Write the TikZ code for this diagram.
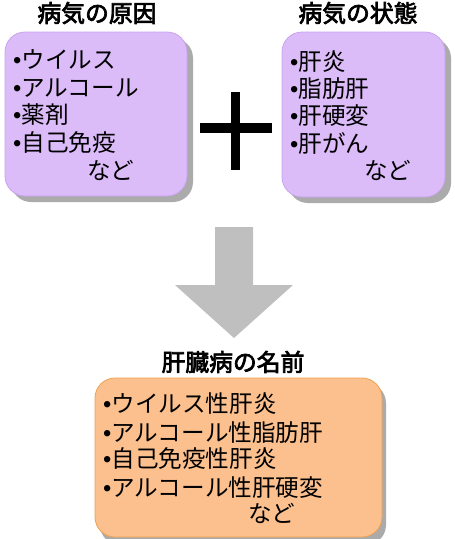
\documentclass[tikz,border=0pt]{standalone}
\usepackage{fontspec}
\setmainfont{Liberation Sans}
\newfontfamily\jpfont{Noto Sans CJK JP}
\newfontfamily\jptitle[FakeBold=3]{Noto Sans CJK JP}
\newfontfamily\latinfont{Liberation Sans}
\newcommand\bul{{\latinfont •}}
\definecolor{lav}{HTML}{DCBBF9}
\definecolor{lavline}{HTML}{C9A3EE}
\definecolor{peach}{HTML}{FBC08E}
\definecolor{peachline}{HTML}{EFA24E}
\definecolor{shadowgray}{HTML}{ABABAB}
\definecolor{arrowgray}{HTML}{BFBFBF}
\begin{document}
\begin{tikzpicture}[x=1pt,y=-1pt,
  boxshape/.style={rounded corners=20pt, line width=0.8pt},
  item/.style={anchor=base west, inner sep=0pt, font=\jpfont\fontsize{23.6}{28}\selectfont},
  title/.style={anchor=base, inner sep=0pt, font=\jptitle\fontsize{23.8}{28}\selectfont}]
\useasboundingbox (0,0) rectangle (455,539);
% shadows
\fill[shadowgray, rounded corners=20pt] (11,38) rectangle (193,202);
\fill[shadowgray, rounded corners=20pt] (288,38) rectangle (451,203);
\fill[shadowgray, rounded corners=20pt] (100,383) rectangle (386,545);
% boxes
\draw[boxshape, fill=lav, draw=lavline] (5,32) rectangle (187,196);
\draw[boxshape, fill=lav, draw=lavline] (282,32) rectangle (445,197);
\draw[boxshape, fill=peach, draw=peachline] (95,378) rectangle (382,537);
% titles
\node[title] (t1) at (97,22) {病気の原因};
\node[title] (t2) at (358,22) {病気の状態};
\node[title] (t3) at (233,371) {肝臓病の名前};
% left list
\node[item] (a1) at (13,68) {\bul ウイルス};
\node[item] (a2) at (13,96) {\bul アルコール};
\node[item] (a3) at (13,123) {\bul 薬剤};
\node[item] (a4) at (13,151) {\bul 自己免疫};
\node[item] (a5) at (87,179) {など};
% right list
\node[item] (b1) at (290,70) {\bul 肝炎};
\node[item] (b2) at (290,97) {\bul 脂肪肝};
\node[item] (b3) at (290,124) {\bul 肝硬変};
\node[item] (b4) at (290,152) {\bul 肝がん};
\node[item] (b5) at (364,179) {など};
% bottom list
\node[item] (c1) at (103,412) {\bul ウイルス性肝炎};
\node[item] (c2) at (103,441) {\bul アルコール性脂肪肝};
\node[item] (c3) at (103,467) {\bul 自己免疫性肝炎};
\node[item] (c4) at (103,496) {\bul アルコール性肝硬変};
\node[item] (c5) at (248,522) {など};
% plus sign
\fill[black] (231,92) rectangle (240,170);
\fill[black] (200,123) rectangle (272,133);
% down arrow
\fill[arrowgray] (215,227) -- (253,227) -- (253,285) -- (293,285) -- (234,338) -- (175,285) -- (215,285) -- cycle;
\end{tikzpicture}
\end{document}
